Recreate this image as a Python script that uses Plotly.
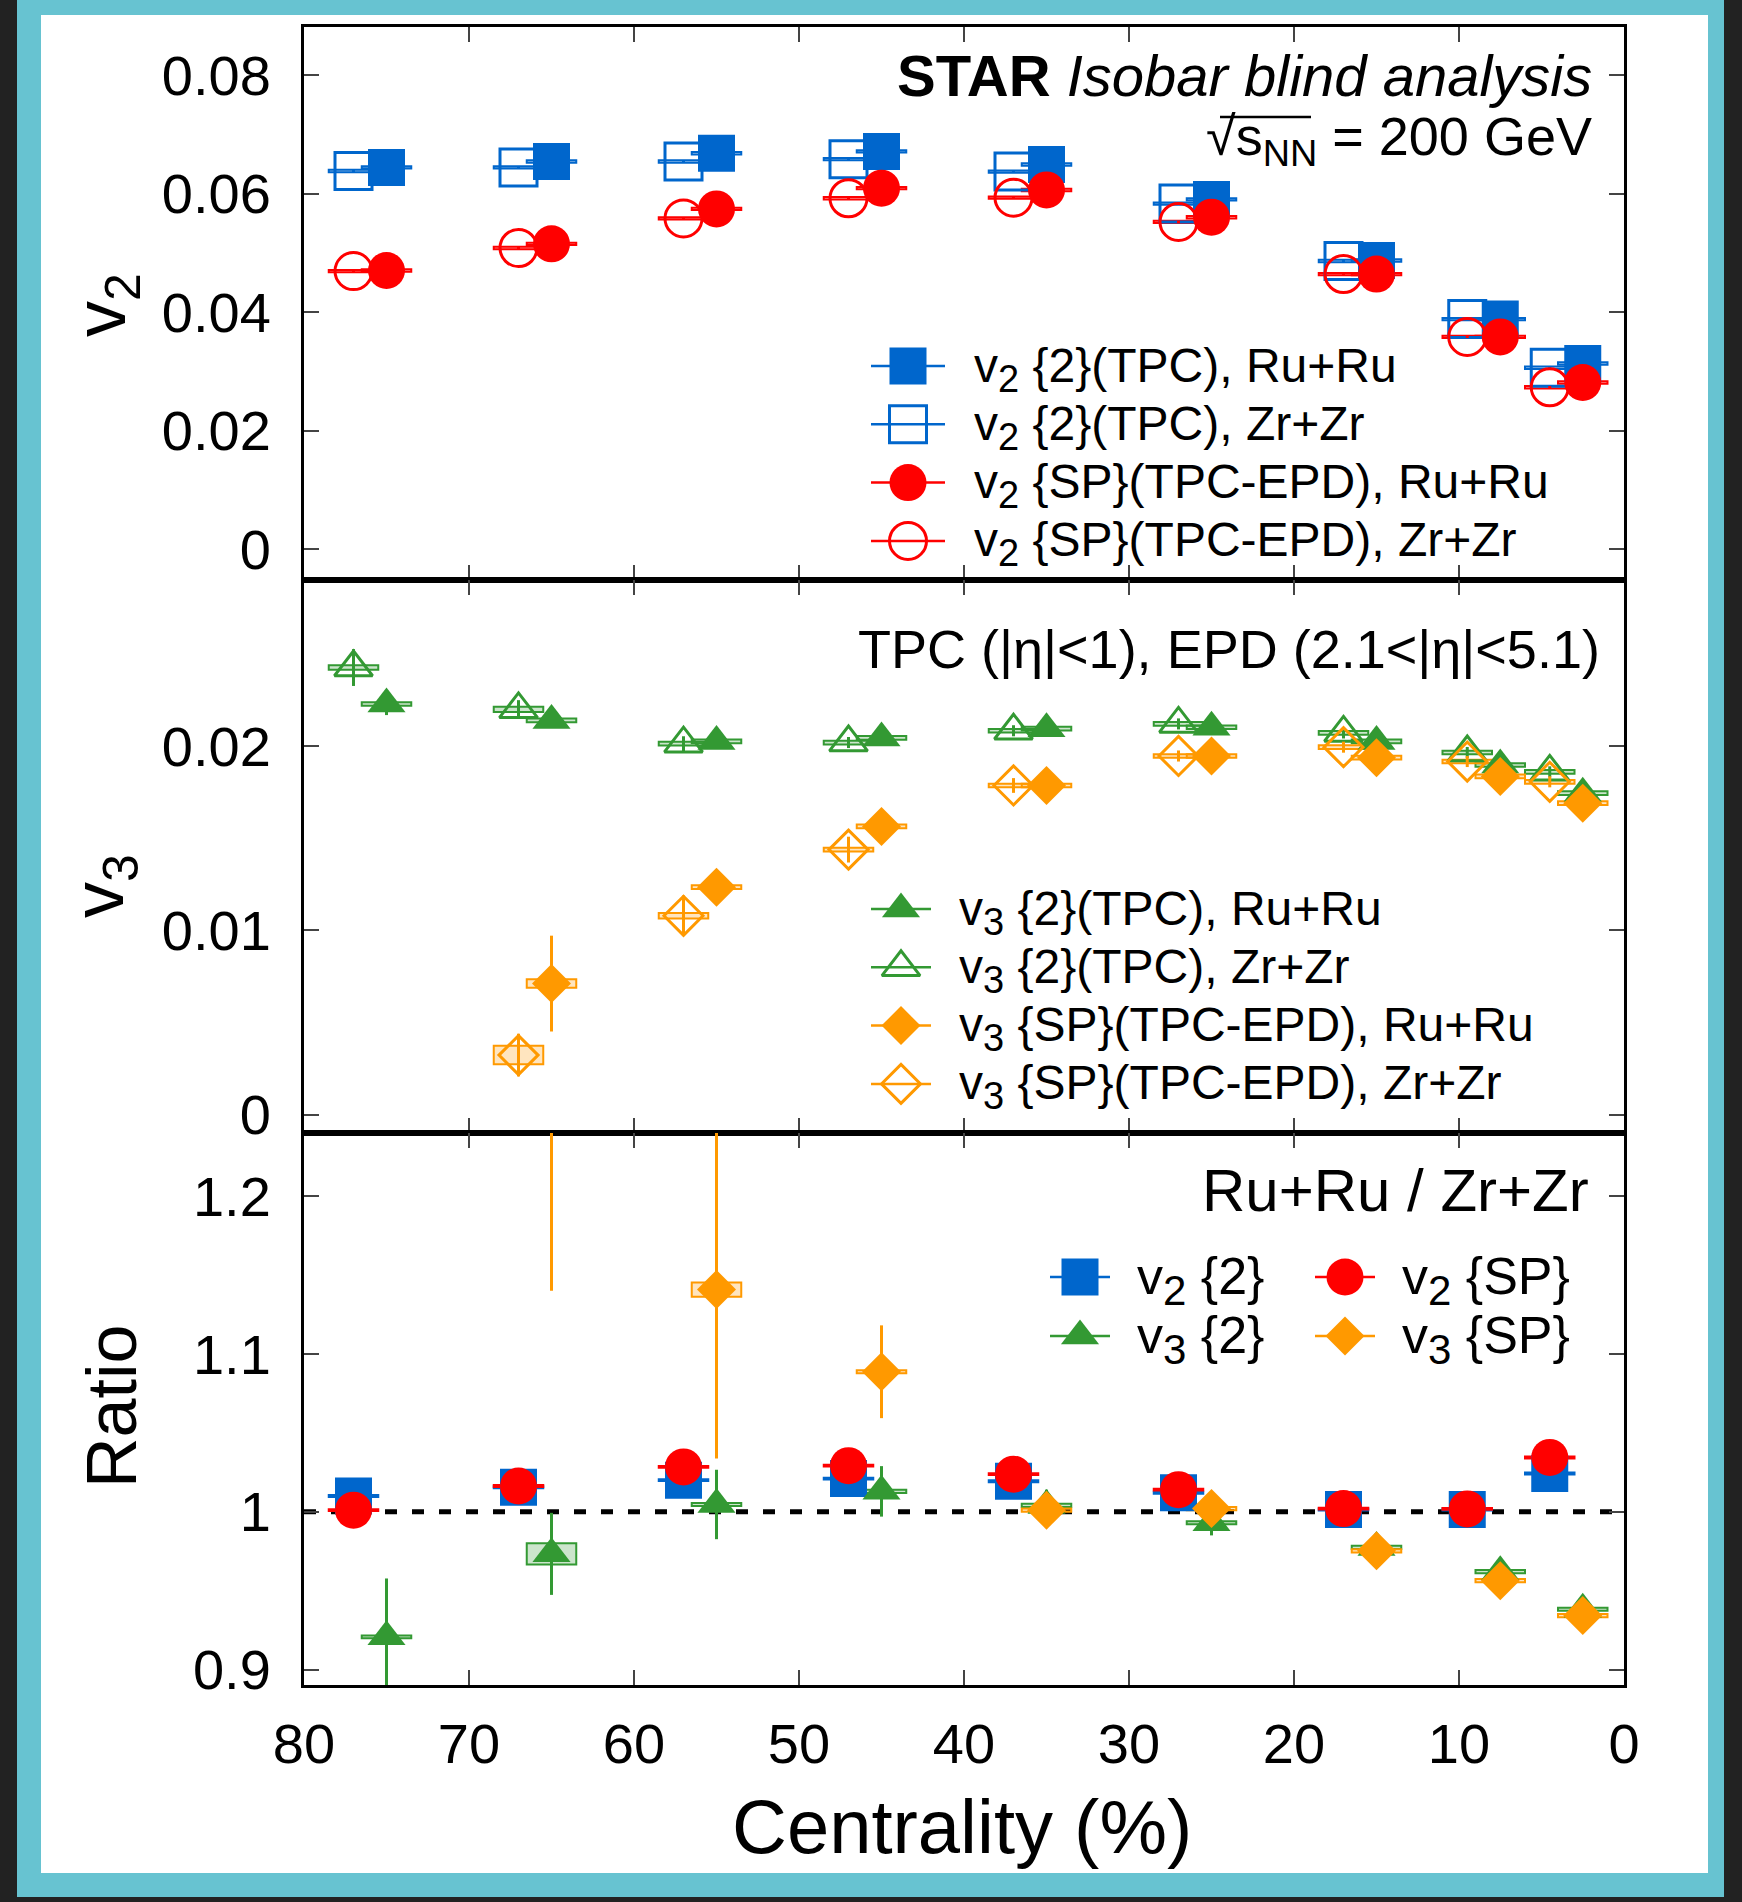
import plotly.graph_objects as go

# ---------------- data ----------------
centrality = [75, 65, 55, 45, 35, 25, 15, 7.5, 2.5]
zr_offset = 2.0  # Zr+Zr points drawn displaced for visibility

v2_2_ru = [0.0644, 0.0654, 0.0668, 0.0671, 0.0649, 0.0590, 0.0487, 0.0388, 0.0313]
v2_2_zr = [0.0638, 0.0644, 0.0654, 0.0658, 0.0637, 0.0583, 0.0486, 0.0388, 0.0306]
v2_sp_ru = [0.0470, 0.0515, 0.0574, 0.0609, 0.0606, 0.0560, 0.0464, 0.0358, 0.0281]
v2_sp_zr = [0.0469, 0.0508, 0.0558, 0.0592, 0.0593, 0.0552, 0.0464, 0.0358, 0.0273]
v2_stat = [0.0002] * 9
v2_sys = [0.0002] * 9

v3_2_ru = [0.02228, 0.02139, 0.02025, 0.02044, 0.02094, 0.02102, 0.02025, 0.01897, 0.01744]
v3_2_zr = [0.02426, 0.02199, 0.02013, 0.02019, 0.02083, 0.02120, 0.02071, 0.01965, 0.01860]
v3_2_ru_stat = [0.0006, 0.0004, 0.0003, 0.0003, 0.0003, 0.0003, 0.0003, 0.0003, 0.0003]
v3_2_zr_stat = [0.0010, 0.0005, 0.0004, 0.0003, 0.0003, 0.0003, 0.0003, 0.0003, 0.0003]
v3_2_ru_sys = [0.0001] * 9
v3_2_zr_sys = [0.00012, 0.00014, 0.0001, 0.0001, 0.0001, 0.0001, 0.0001, 0.0001, 0.0001]

v3_sp_ru = [None, 0.00711, 0.01234, 0.01564, 0.01786, 0.01946, 0.01937, 0.01835, 0.01690]
v3_sp_zr = [None, 0.00323, 0.01079, 0.01438, 0.01786, 0.01946, 0.01994, 0.01916, 0.01806]
v3_sp_ru_stat = [None, 0.0026, 0.0005, 0.0004, 0.0003, 0.0003, 0.0003, 0.0003, 0.0003]
v3_sp_zr_stat = [None, 0.00116, 0.0011, 0.0007, 0.0004, 0.0003, 0.0003, 0.0003, 0.0003]
v3_sp_ru_sys = [None, 0.00023, 0.0001, 0.0001, 0.0001, 0.0001, 0.0001, 0.0001, 0.0001]
v3_sp_zr_sys = [None, 0.0005, 0.00015, 0.0001, 0.0001, 0.0001, 0.0001, 0.0001, 0.0001]

ratio_v2_2 = [1.010, 1.0155, 1.020, 1.021, 1.0193, 1.012, 1.0014, 1.0014, 1.0242]
ratio_v2_sp = [1.001, 1.0163, 1.0284, 1.0292, 1.0238, 1.014, 1.002, 1.0018, 1.0344]
ratio_v3_2 = [0.9207, 0.9733, 1.0046, 1.0129, 1.004, 0.993, 0.9774, 0.962, 0.9382]
ratio_v3_sp = [None, 2.2, 1.1408, 1.0887, 1.001, 1.002, 0.9752, 0.9563, 0.9342]
ratio_v2_stat = [0.003] * 9
ratio_v2_sys = [0.0006] * 9
ratio_v3_2_stat = [0.037, 0.026, 0.022, 0.016, 0.010, 0.008, 0.007, 0.006, 0.006]
ratio_v3_2_sys = [0.0008, 0.0068, 0.001, 0.001, 0.001, 0.001, 0.001, 0.001, 0.001]
ratio_v3_sp_stat = [None, 1.06, 0.107, 0.0294, 0.008, 0.007, 0.006, 0.005, 0.005]
ratio_v3_sp_sys = [None, 0.1, 0.0045, 0.001, 0.001, 0.001, 0.001, 0.001, 0.001]

x_ticks = [80, 70, 60, 50, 40, 30, 20, 10, 0]
v2_ticks = [0, 0.02, 0.04, 0.06, 0.08]
v2_ticktext = ["0", "0.02", "0.04", "0.06", "0.08"]
v3_ticks = [0, 0.01, 0.02]
v3_ticktext = ["0", "0.01", "0.02"]
ratio_ticks = [0.9, 1.0, 1.1, 1.2]
ratio_ticktext = ["0.9", "1", "1.1", "1.2"]

# ---------------- styling / layout ----------------
W, H = 1742, 1902
FONT = "Liberation Sans, Arial, Helvetica, sans-serif"
BLUE, RED, GREEN, ORANGE = "#0066cc", "#ff0000", "#339933", "#ff9900"
X0, X1 = 304, 1624
PANELS = [(27, 580), (580, 1133), (1133, 1685)]
BOX_HALF = 1.5


def px_x(p):
    return p / W


def px_y(p):
    return 1 - p / H


def rgba(hexc, a):
    h = hexc.lstrip("#")
    r, g, b = int(h[0:2], 16), int(h[2:4], 16), int(h[4:6], 16)
    return f"rgba({r},{g},{b},{a})"


def sub(label, n, size):
    return f"{label}<sub><span style='font-size:{size}px'>{n}</span></sub>"


fig = go.Figure()


def add_series(xs, ys, stat, sys, color, symbol, size, open_, ax):
    xa, ya = ("x", "y") if ax == 1 else (f"x{ax}", f"y{ax}")
    px, py, pe = [], [], []
    for xi, yi, ei, si in zip(xs, ys, stat, sys):
        if yi is None:
            continue
        px.append(xi)
        py.append(yi)
        pe.append(ei)
        fig.add_shape(type="rect", xref=xa, yref=ya, x0=xi - BOX_HALF, x1=xi + BOX_HALF,
                      y0=yi - si, y1=yi + si, line=dict(color=color, width=2),
                      fillcolor=rgba(color, 0.25), layer="below")
    marker = dict(symbol=symbol + ("-open" if open_ else ""), size=size, color=color,
                  line=dict(width=3 if open_ else 0, color=color))
    fig.add_trace(go.Scatter(
        x=px, y=py, mode="markers", marker=marker, showlegend=False,
        error_y=dict(type="data", array=pe, visible=True, color=color, thickness=3, width=0),
        xaxis=xa, yaxis=ya, hoverinfo="skip"))


cent_zr = [c + zr_offset for c in centrality]

# top panel: v2
add_series(cent_zr, v2_2_zr, v2_stat, v2_sys, BLUE, "square", 37, True, 1)
add_series(centrality, v2_2_ru, v2_stat, v2_sys, BLUE, "square", 37, False, 1)
add_series(cent_zr, v2_sp_zr, v2_stat, v2_sys, RED, "circle", 37, True, 1)
add_series(centrality, v2_sp_ru, v2_stat, v2_sys, RED, "circle", 37, False, 1)

# middle panel: v3
add_series(cent_zr, v3_2_zr, v3_2_zr_stat, v3_2_zr_sys, GREEN, "triangle-up", 33, True, 2)
add_series(centrality, v3_2_ru, v3_2_ru_stat, v3_2_ru_sys, GREEN, "triangle-up", 33, False, 2)
add_series(cent_zr, v3_sp_zr, v3_sp_zr_stat, v3_sp_zr_sys, ORANGE, "diamond", 30, True, 2)
add_series(centrality, v3_sp_ru, v3_sp_ru_stat, v3_sp_ru_sys, ORANGE, "diamond", 30, False, 2)

# bottom panel: ratios
fig.add_shape(type="line", xref="x3", yref="y3", x0=80, x1=0, y0=1, y1=1,
              line=dict(color="black", width=5, dash="12px,15px"), layer="below")
add_series(cent_zr, ratio_v2_2, ratio_v2_stat, ratio_v2_sys, BLUE, "square", 37, False, 3)
add_series(cent_zr, ratio_v2_sp, ratio_v2_stat, ratio_v2_sys, RED, "circle", 37, False, 3)
add_series(centrality, ratio_v3_2, ratio_v3_2_stat, ratio_v3_2_sys, GREEN, "triangle-up", 33, False, 3)
add_series(centrality, ratio_v3_sp, ratio_v3_sp_stat, ratio_v3_sp_sys, ORANGE, "diamond", 30, False, 3)

# ---------------- hand-drawn legends on a full-page overlay axis (pixel units) ----------------
LF, LFB = 48, 52
legend_top = [
    (sub("v", 2, 38) + " {2}(TPC), Ru+Ru", BLUE, "square", 37, False),
    (sub("v", 2, 38) + " {2}(TPC), Zr+Zr", BLUE, "square", 37, True),
    (sub("v", 2, 38) + " {SP}(TPC-EPD), Ru+Ru", RED, "circle", 37, False),
    (sub("v", 2, 38) + " {SP}(TPC-EPD), Zr+Zr", RED, "circle", 37, True),
]
legend_mid = [
    (sub("v", 3, 38) + " {2}(TPC), Ru+Ru", GREEN, "triangle-up", 33, False),
    (sub("v", 3, 38) + " {2}(TPC), Zr+Zr", GREEN, "triangle-up", 33, True),
    (sub("v", 3, 38) + " {SP}(TPC-EPD), Ru+Ru", ORANGE, "diamond", 30, False),
    (sub("v", 3, 38) + " {SP}(TPC-EPD), Zr+Zr", ORANGE, "diamond", 30, True),
]
legend_bot = [
    (sub("v", 2, 42) + " {2}", BLUE, "square", 37, False),
    (sub("v", 2, 42) + " {SP}", RED, "circle", 37, False),
    (sub("v", 3, 42) + " {2}", GREEN, "triangle-up", 33, False),
    (sub("v", 3, 42) + " {SP}", ORANGE, "diamond", 30, False),
]

annotations = []


def legend_item(label, color, symbol, size, open_, mx, my, half, tx, fsize):
    fig.add_trace(go.Scatter(
        x=[mx], y=[my], mode="markers", xaxis="x4", yaxis="y4", showlegend=False,
        marker=dict(symbol=symbol + ("-open" if open_ else ""), size=size, color=color,
                    line=dict(width=3 if open_ else 0, color=color)),
        error_x=dict(type="data", array=[half], visible=True, color=color, thickness=2.5, width=0),
        cliponaxis=False, hoverinfo="skip"))
    annotations.append(dict(x=tx, y=my + 3, xref="x4", yref="y4", text=label, showarrow=False,
                            xanchor="left", yanchor="middle",
                            font=dict(size=fsize, family=FONT, color="black")))


for i, it in enumerate(legend_top):
    legend_item(*it, mx=908, my=366 + i * 58.3, half=37, tx=972, fsize=LF)
for i, it in enumerate(legend_mid):
    legend_item(*it, mx=901, my=909 + i * 58.3, half=30, tx=957, fsize=LF)
for i, it in enumerate(legend_bot):
    col, row = i % 2, i // 2
    legend_item(*it, mx=[1080, 1345][col], my=1277 + row * 59, half=30,
                tx=[1135, 1400][col], fsize=LFB)


# texts
def txt(text, x, y, size, xanchor="right", angle=0):
    annotations.append(dict(x=x, y=y, xref="x4", yref="y4", text=text, showarrow=False,
                            xanchor=xanchor, yanchor="middle", textangle=angle,
                            font=dict(size=size, family=FONT, color="black")))


txt("<b>STAR</b> <i>Isobar blind analysis</i>", 1594, 75, 58)
txt("√s<sub>NN</sub> = 200 GeV", 1594, 140, 54)
txt("TPC (|η|<1), EPD (2.1<|η|<5.1)", 1602, 649, 54)
txt("Ru+Ru / Zr+Zr", 1591, 1190, 60)
txt(sub("v", 2, 50), 105, 305, 72, xanchor="center", angle=-90)
txt(sub("v", 3, 50), 103, 886, 72, xanchor="center", angle=-90)
txt("Ratio", 112, 1407, 70, xanchor="center", angle=-90)
txt("Centrality (%)", 962, 1826, 76, xanchor="center")

# ---------------- axes ----------------
tickfont = dict(size=56, family=FONT, color="black")
axis_common = dict(ticks="inside", ticklen=15, tickwidth=2, tickcolor="#444",
                   showline=True, linewidth=3, linecolor="black", mirror="ticks",
                   showgrid=False, zeroline=False, tickfont=tickfont, automargin=False)

xdom = [px_x(X0), px_x(X1)]
layout_axes = {}
for i, (t, b) in enumerate(PANELS, start=1):
    xname = "xaxis" if i == 1 else f"xaxis{i}"
    yname = "yaxis" if i == 1 else f"yaxis{i}"
    ya = "y" if i == 1 else f"y{i}"
    xa = "x" if i == 1 else f"x{i}"
    layout_axes[xname] = dict(axis_common, domain=xdom, range=[80, 0], tickvals=x_ticks,
                              showticklabels=(i == 3), anchor=ya, ticklabelstandoff=8)
    layout_axes[yname] = dict(axis_common, domain=[px_y(b), px_y(t)], anchor=xa,
                              ticklabelstandoff=19)

layout_axes["yaxis"].update(range=[-0.00523, 0.0881], tickvals=v2_ticks, ticktext=v2_ticktext)
layout_axes["yaxis2"].update(range=[-0.000998, 0.02901], tickvals=v3_ticks, ticktext=v3_ticktext)
layout_axes["yaxis3"].update(range=[0.8902, 1.2400], tickvals=ratio_ticks, ticktext=ratio_ticktext)
layout_axes["xaxis4"] = dict(domain=[0, 1], range=[0, W], visible=False, anchor="y4",
                             fixedrange=True, automargin=False)
layout_axes["yaxis4"] = dict(domain=[0, 1], range=[H, 0], visible=False, anchor="x4",
                             fixedrange=True, automargin=False)

# page frame (dark edge, cyan border, white page)
shapes_extra = [
    dict(type="rect", xref="paper", yref="paper", x0=px_x(17), x1=px_x(1724),
         y0=px_y(1897), y1=px_y(0), fillcolor="#67c3d1", line=dict(width=0), layer="below"),
    dict(type="rect", xref="paper", yref="paper", x0=px_x(41), x1=px_x(1708),
         y0=px_y(1873), y1=px_y(15), fillcolor="white", line=dict(width=0), layer="below"),
    # vinculum of the square-root sign
    dict(type="line", xref="paper", yref="paper", x0=px_x(1220), x1=px_x(1311),
         y0=px_y(117), y1=px_y(117), line=dict(color="black", width=2.5), layer="above"),
]
for s in shapes_extra:
    fig.add_shape(**s)

fig.update_layout(
    width=W, height=H, autosize=False,
    margin=dict(l=0, r=0, t=0, b=0, pad=0, autoexpand=False),
    paper_bgcolor="#222222", plot_bgcolor="rgba(0,0,0,0)",
    font=dict(family=FONT, color="black"),
    showlegend=False,
    annotations=annotations,
    **layout_axes,
)

fig.write_html("out.html")
